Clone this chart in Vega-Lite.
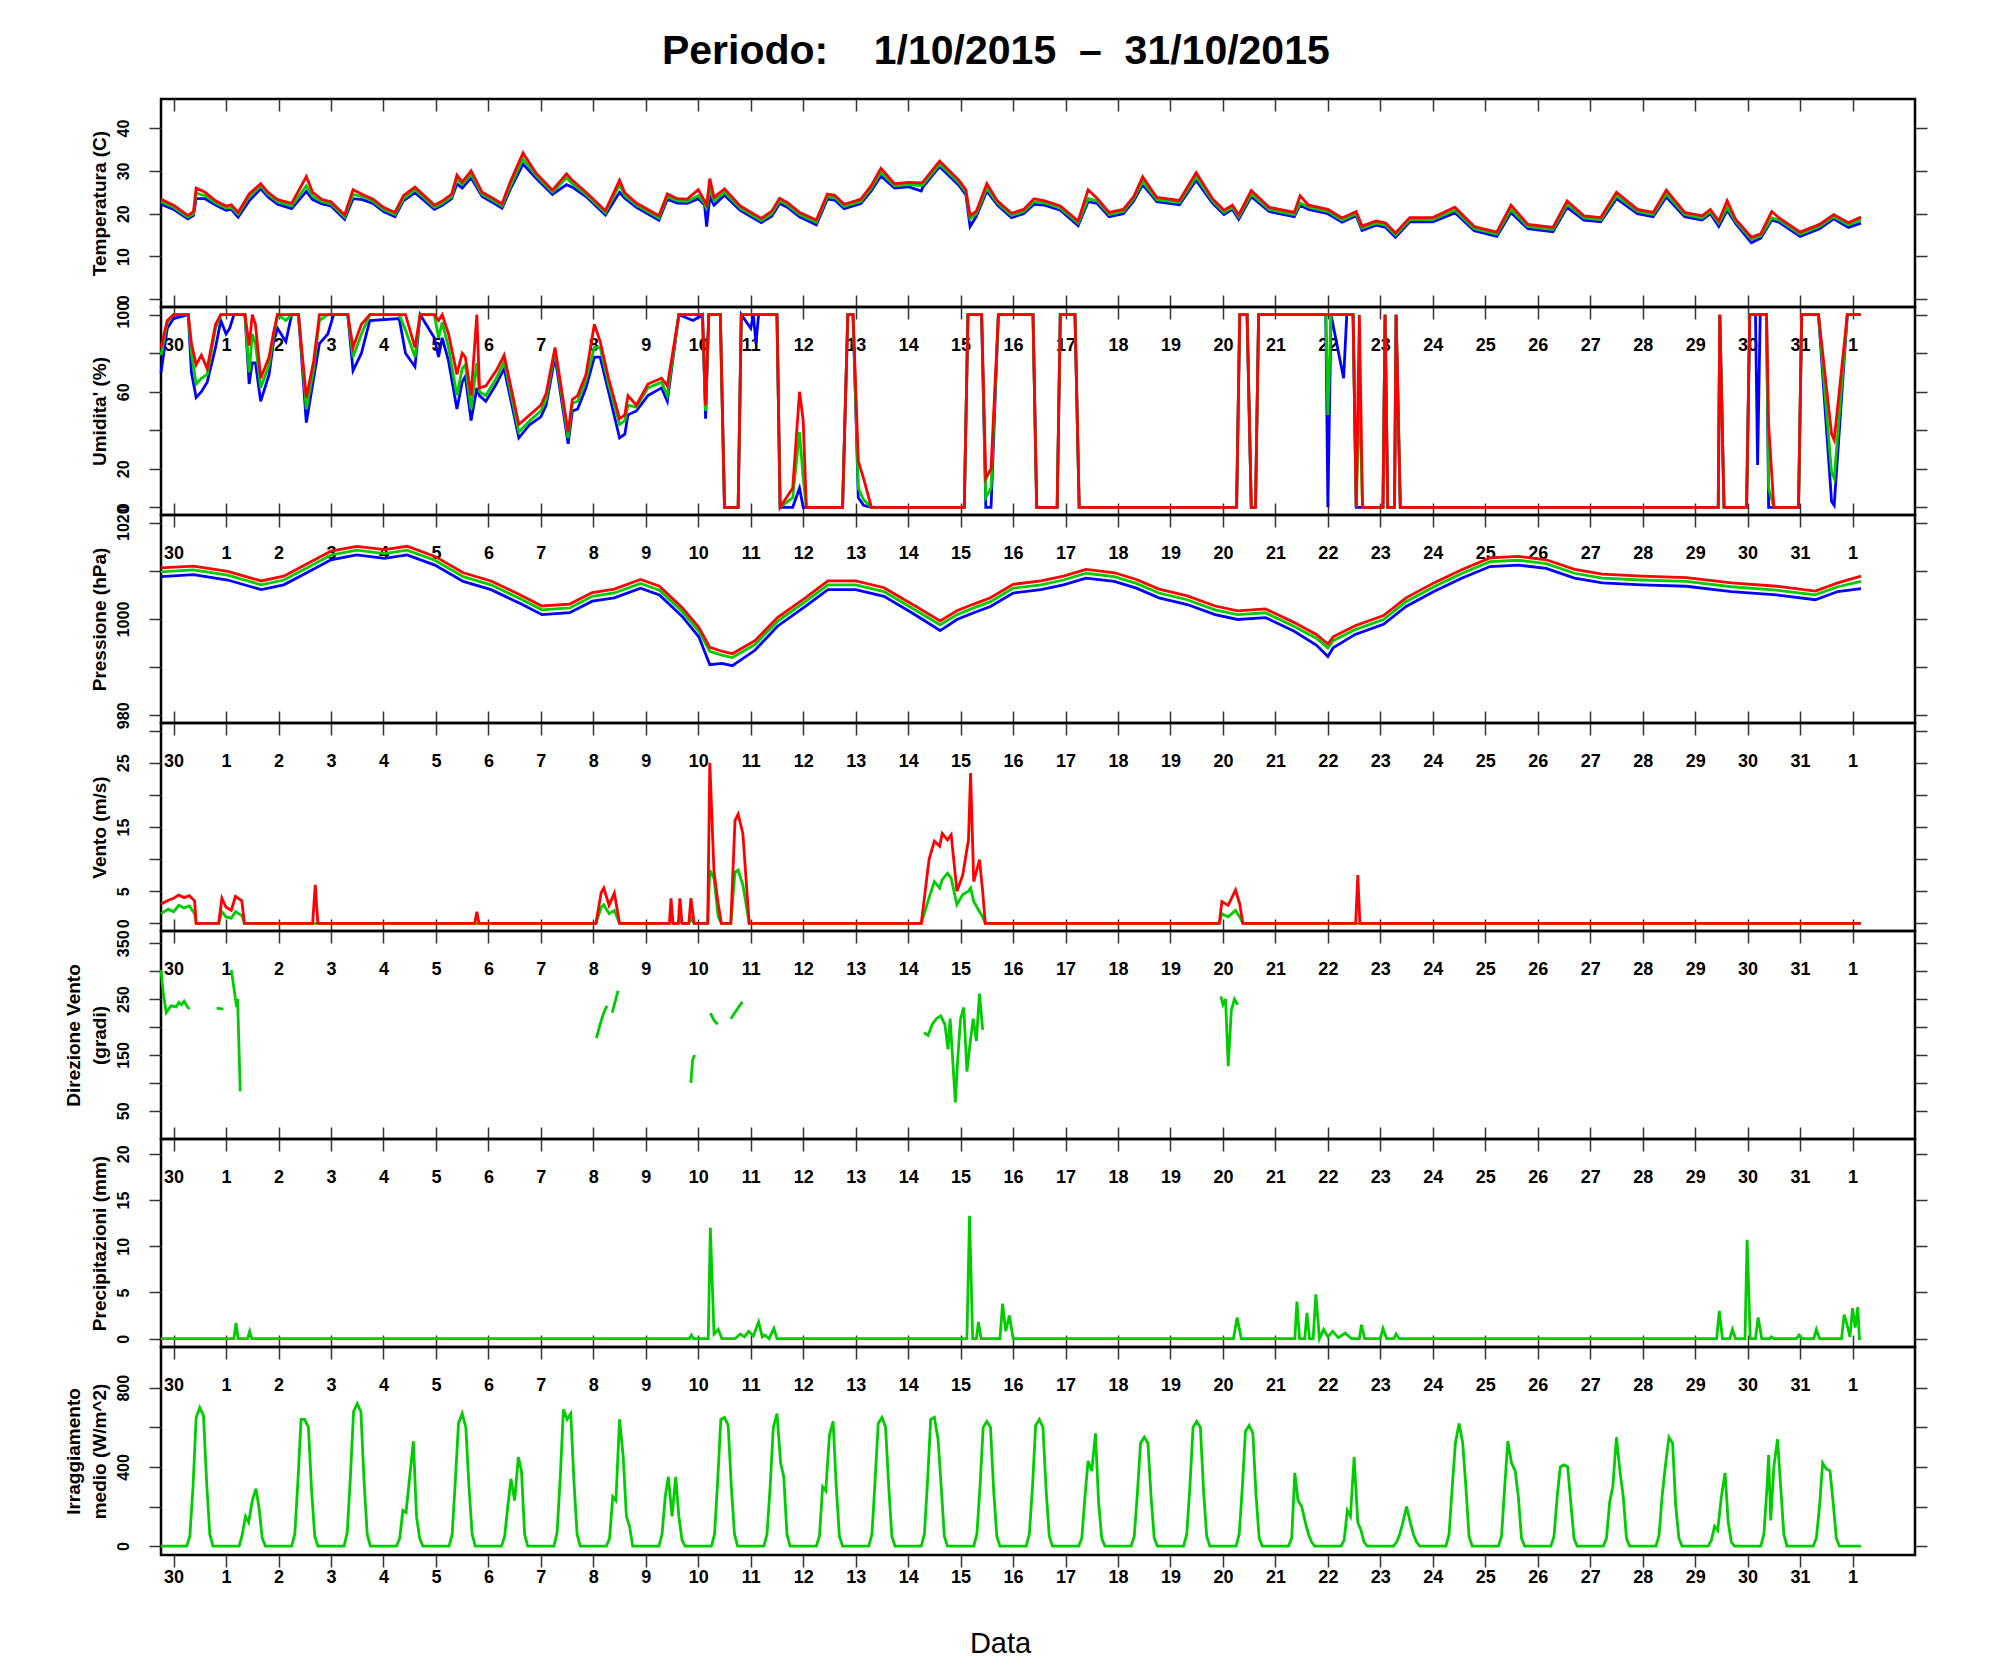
{
  "$schema": "https://vega.github.io/schema/vega-lite/v6.json",
  "description": "Meteo station, October 2015: temperature, humidity, pressure, wind, wind direction, rain, solar radiation",
  "background": "white",
  "padding": {"left": 62, "top": 31, "right": 10, "bottom": 10},
  "title": {
    "text": "Periodo:\u00a0\u00a0\u00a0 1/10/2015\u00a0\u00a0–\u00a0\u00a031/10/2015",
    "font": "Liberation Sans",
    "fontSize": 41,
    "fontWeight": "bold",
    "color": "black",
    "anchor": "middle",
    "baseline": "alphabetic",
    "offset": -8
  },
  "datasets": {
    "temp": [
      {"d":-0.24,"b":22.2,"g":22.8,"r":23.4},{"d":0.0,"b":21.0,"g":21.5,"r":22.0},{"d":0.27,"b":18.8,"g":19.2,"r":19.6},
      {"d":0.38,"b":19.6,"g":20.0,"r":20.5},{"d":0.43,"b":23.5,"g":24.8,"r":26.0},{"d":0.6,"b":23.5,"g":24.2,"r":25.0},
      {"d":0.8,"b":22.0,"g":22.5,"r":23.0},{"d":1.0,"b":20.8,"g":21.3,"r":21.8},{"d":1.1,"b":21.0,"g":21.5,"r":22.1},
      {"d":1.23,"b":19.2,"g":19.8,"r":20.3},{"d":1.44,"b":23.0,"g":24.0,"r":24.6},{"d":1.66,"b":25.8,"g":26.5,"r":27.0},
      {"d":1.8,"b":23.9,"g":24.5,"r":25.0},{"d":1.98,"b":22.2,"g":22.8,"r":23.3},{"d":2.25,"b":21.2,"g":21.8,"r":22.4},
      {"d":2.53,"b":25.2,"g":26.5,"r":28.7},{"d":2.65,"b":23.3,"g":24.0,"r":25.0},{"d":2.83,"b":22.3,"g":22.8,"r":23.3},
      {"d":3.0,"b":21.8,"g":22.3,"r":22.8},{"d":3.26,"b":18.7,"g":19.2,"r":19.7},{"d":3.42,"b":23.5,"g":24.5,"r":25.6},
      {"d":3.6,"b":23.3,"g":24.0,"r":24.5},{"d":3.8,"b":22.4,"g":22.9,"r":23.4},{"d":4.0,"b":20.5,"g":21.0,"r":21.5},
      {"d":4.22,"b":19.3,"g":19.8,"r":20.3},{"d":4.38,"b":23.0,"g":23.5,"r":24.2},{"d":4.6,"b":24.9,"g":25.6,"r":26.2},
      {"d":4.97,"b":21.0,"g":21.5,"r":22.0},{"d":5.13,"b":22.0,"g":22.5,"r":23.0},{"d":5.3,"b":23.5,"g":24.0,"r":24.6},
      {"d":5.4,"b":27.0,"g":28.2,"r":29.0},{"d":5.5,"b":26.0,"g":26.8,"r":27.4},{"d":5.67,"b":28.4,"g":29.2,"r":30.0},
      {"d":5.88,"b":24.0,"g":24.5,"r":25.0},{"d":6.1,"b":22.5,"g":23.0,"r":23.5},{"d":6.26,"b":21.3,"g":21.8,"r":22.3},
      {"d":6.42,"b":25.8,"g":26.5,"r":27.5},{"d":6.66,"b":31.6,"g":32.8,"r":34.2},{"d":6.9,"b":28.4,"g":29.0,"r":29.6},
      {"d":7.22,"b":24.5,"g":25.0,"r":25.5},{"d":7.49,"b":26.8,"g":28.4,"r":29.3},{"d":7.6,"b":26.2,"g":27.0,"r":27.8},
      {"d":7.86,"b":24.0,"g":24.5,"r":25.0},{"d":8.23,"b":19.7,"g":20.2,"r":20.7},{"d":8.5,"b":25.0,"g":26.8,"r":27.8},
      {"d":8.6,"b":23.6,"g":24.2,"r":24.9},{"d":8.82,"b":21.5,"g":22.0,"r":22.5},{"d":9.25,"b":18.5,"g":19.0,"r":19.5},
      {"d":9.41,"b":23.4,"g":24.0,"r":24.6},{"d":9.6,"b":22.5,"g":23.0,"r":23.5},{"d":9.79,"b":22.4,"g":22.9,"r":23.4},
      {"d":10.0,"b":23.5,"g":24.2,"r":25.6},{"d":10.12,"b":22.0,"g":22.5,"r":23.0},{"d":10.16,"b":17.0,"g":21.0,"r":22.0},
      {"d":10.22,"b":24.0,"g":26.0,"r":28.2},{"d":10.3,"b":22.0,"g":23.0,"r":23.8},{"d":10.5,"b":24.3,"g":25.0,"r":25.8},
      {"d":10.8,"b":20.8,"g":21.3,"r":21.8},{"d":11.2,"b":17.9,"g":18.4,"r":18.9},{"d":11.4,"b":19.4,"g":20.0,"r":20.6},
      {"d":11.55,"b":22.4,"g":23.0,"r":23.6},{"d":11.7,"b":21.5,"g":22.0,"r":22.6},{"d":11.93,"b":19.3,"g":19.8,"r":20.3},
      {"d":12.25,"b":17.4,"g":18.0,"r":18.5},{"d":12.46,"b":23.4,"g":24.0,"r":24.6},{"d":12.6,"b":23.2,"g":23.8,"r":24.3},
      {"d":12.78,"b":21.2,"g":21.7,"r":22.2},{"d":13.0,"b":22.0,"g":22.5,"r":23.0},{"d":13.1,"b":22.4,"g":22.9,"r":23.4},
      {"d":13.3,"b":25.4,"g":26.0,"r":26.6},{"d":13.48,"b":28.8,"g":29.6,"r":30.6},{"d":13.74,"b":26.0,"g":26.5,"r":27.0},
      {"d":14.0,"b":26.3,"g":26.8,"r":27.3},{"d":14.25,"b":25.3,"g":26.6,"r":27.2},{"d":14.28,"b":26.2,"g":26.8,"r":27.4},
      {"d":14.6,"b":31.0,"g":31.6,"r":32.3},{"d":14.97,"b":26.6,"g":27.2,"r":27.8},{"d":15.1,"b":24.4,"g":25.0,"r":25.6},
      {"d":15.18,"b":17.0,"g":18.8,"r":19.5},{"d":15.3,"b":19.4,"g":20.0,"r":20.6},{"d":15.5,"b":25.3,"g":26.0,"r":27.0},
      {"d":15.7,"b":22.0,"g":22.5,"r":23.0},{"d":15.97,"b":19.1,"g":19.6,"r":20.1},{"d":16.2,"b":20.0,"g":20.5,"r":21.0},
      {"d":16.4,"b":22.2,"g":22.8,"r":23.5},{"d":16.6,"b":22.0,"g":22.5,"r":23.0},{"d":16.9,"b":20.8,"g":21.3,"r":21.8},
      {"d":17.24,"b":17.2,"g":17.8,"r":18.3},{"d":17.43,"b":22.8,"g":23.5,"r":25.6},{"d":17.6,"b":22.4,"g":23.0,"r":23.6},
      {"d":17.83,"b":19.3,"g":19.8,"r":20.3},{"d":18.1,"b":20.0,"g":20.5,"r":21.0},{"d":18.3,"b":23.0,"g":23.5,"r":24.0},
      {"d":18.47,"b":26.8,"g":27.5,"r":28.6},{"d":18.74,"b":22.8,"g":23.3,"r":23.8},{"d":19.17,"b":22.1,"g":22.6,"r":23.1},
      {"d":19.49,"b":27.8,"g":28.6,"r":29.6},{"d":19.8,"b":22.5,"g":23.0,"r":23.5},{"d":20.02,"b":19.8,"g":20.3,"r":20.8},
      {"d":20.18,"b":21.0,"g":21.5,"r":22.0},{"d":20.3,"b":18.7,"g":19.2,"r":19.7},{"d":20.54,"b":24.0,"g":24.6,"r":25.4},
      {"d":20.88,"b":20.5,"g":21.0,"r":21.5},{"d":21.36,"b":19.3,"g":19.8,"r":20.3},{"d":21.47,"b":22.0,"g":22.5,"r":24.2},
      {"d":21.63,"b":21.0,"g":21.5,"r":22.0},{"d":22.0,"b":20.0,"g":20.5,"r":21.0},{"d":22.27,"b":18.0,"g":18.5,"r":19.0},
      {"d":22.54,"b":19.5,"g":20.0,"r":20.5},{"d":22.65,"b":16.1,"g":16.6,"r":17.1},{"d":22.92,"b":17.3,"g":17.8,"r":18.3},
      {"d":23.1,"b":16.8,"g":17.3,"r":17.8},{"d":23.29,"b":14.5,"g":15.0,"r":15.5},{"d":23.56,"b":18.1,"g":18.6,"r":19.1},
      {"d":24.0,"b":18.1,"g":18.6,"r":19.1},{"d":24.42,"b":20.2,"g":20.8,"r":21.5},{"d":24.79,"b":16.0,"g":16.5,"r":17.0},
      {"d":25.22,"b":14.7,"g":15.2,"r":15.7},{"d":25.49,"b":20.3,"g":21.0,"r":22.0},{"d":25.81,"b":16.5,"g":17.0,"r":17.5},
      {"d":26.29,"b":15.8,"g":16.3,"r":16.8},{"d":26.56,"b":21.5,"g":22.2,"r":23.0},{"d":26.88,"b":18.5,"g":19.0,"r":19.5},
      {"d":27.2,"b":18.1,"g":18.6,"r":19.1},{"d":27.5,"b":23.5,"g":24.2,"r":25.0},{"d":27.9,"b":20.0,"g":20.5,"r":21.0},
      {"d":28.2,"b":19.3,"g":19.8,"r":20.3},{"d":28.45,"b":23.9,"g":24.6,"r":25.5},{"d":28.8,"b":19.3,"g":19.8,"r":20.3},
      {"d":29.13,"b":18.5,"g":19.0,"r":19.5},{"d":29.29,"b":20.0,"g":20.5,"r":21.0},{"d":29.45,"b":17.0,"g":17.8,"r":18.3},
      {"d":29.61,"b":20.8,"g":21.5,"r":23.0},{"d":29.77,"b":17.7,"g":18.2,"r":18.7},{"d":30.07,"b":13.2,"g":14.0,"r":14.5},
      {"d":30.25,"b":14.3,"g":14.8,"r":15.3},{"d":30.46,"b":18.5,"g":19.0,"r":20.5},{"d":30.6,"b":18.0,"g":18.5,"r":19.0},
      {"d":31.0,"b":14.7,"g":15.2,"r":15.7},{"d":31.37,"b":16.5,"g":17.0,"r":17.5},{"d":31.64,"b":18.8,"g":19.3,"r":19.8},
      {"d":31.92,"b":16.8,"g":17.4,"r":17.9},{"d":32.16,"b":17.8,"g":18.6,"r":19.2}
    ],
    "hum": [
      {"d":-0.24,"b":70,"g":79,"r":83},{"d":-0.12,"b":93,"g":96,"r":97},{"d":0.0,"b":98,"g":100,"r":100},
      {"d":0.28,"b":100,"g":100,"r":100},{"d":0.34,"b":70,"g":80,"r":85},{"d":0.43,"b":57,"g":64,"r":74},
      {"d":0.53,"b":60,"g":67,"r":79},{"d":0.64,"b":65,"g":69,"r":72},{"d":0.8,"b":83,"g":93,"r":95},
      {"d":0.9,"b":97,"g":100,"r":100},{"d":1.0,"b":90,"g":100,"r":100},{"d":1.07,"b":93,"g":100,"r":100},
      {"d":1.15,"b":100,"g":100,"r":100},{"d":1.36,"b":100,"g":100,"r":100},{"d":1.44,"b":64,"g":70,"r":84},
      {"d":1.5,"b":75,"g":90,"r":100},{"d":1.56,"b":75,"g":85,"r":95},{"d":1.66,"b":55,"g":62,"r":67},
      {"d":1.82,"b":69,"g":74,"r":78},{"d":1.9,"b":85,"g":88,"r":90},{"d":1.98,"b":93,"g":100,"r":100},
      {"d":2.14,"b":86,"g":97,"r":100},{"d":2.25,"b":100,"g":100,"r":100},{"d":2.38,"b":100,"g":100,"r":100},
      {"d":2.53,"b":44,"g":51,"r":57},{"d":2.67,"b":67,"g":72,"r":76},{"d":2.78,"b":85,"g":97,"r":100},
      {"d":2.94,"b":90,"g":100,"r":100},{"d":3.05,"b":100,"g":100,"r":100},{"d":3.32,"b":100,"g":100,"r":100},
      {"d":3.42,"b":71,"g":78,"r":83},{"d":3.58,"b":80,"g":90,"r":95},{"d":3.74,"b":97,"g":100,"r":100},
      {"d":4.3,"b":98,"g":100,"r":100},{"d":4.42,"b":80,"g":92,"r":100},{"d":4.6,"b":73,"g":78,"r":83},
      {"d":4.7,"b":100,"g":100,"r":100},{"d":4.97,"b":88,"g":100,"r":100},{"d":5.05,"b":78,"g":88,"r":97},
      {"d":5.12,"b":88,"g":96,"r":100},{"d":5.24,"b":76,"g":83,"r":90},{"d":5.4,"b":51,"g":58,"r":69},
      {"d":5.5,"b":65,"g":72,"r":80},{"d":5.56,"b":68,"g":74,"r":78},{"d":5.67,"b":45,"g":51,"r":58},
      {"d":5.78,"b":62,"g":75,"r":100},{"d":5.83,"b":58,"g":60,"r":62},{"d":5.95,"b":55,"g":58,"r":63},
      {"d":6.15,"b":64,"g":67,"r":71},{"d":6.3,"b":72,"g":76,"r":79},{"d":6.58,"b":36,"g":39,"r":43},
      {"d":6.79,"b":43,"g":45,"r":48},{"d":7.0,"b":47,"g":50,"r":53},{"d":7.1,"b":53,"g":56,"r":59},
      {"d":7.27,"b":78,"g":81,"r":83},{"d":7.52,"b":33,"g":36,"r":39},{"d":7.6,"b":50,"g":54,"r":56},
      {"d":7.7,"b":51,"g":55,"r":58},{"d":7.86,"b":62,"g":66,"r":69},{"d":8.02,"b":78,"g":83,"r":95},
      {"d":8.13,"b":78,"g":83,"r":86},{"d":8.29,"b":60,"g":64,"r":67},{"d":8.5,"b":36,"g":43,"r":46},
      {"d":8.6,"b":38,"g":45,"r":48},{"d":8.66,"b":48,"g":53,"r":58},{"d":8.82,"b":50,"g":52,"r":53},
      {"d":9.04,"b":58,"g":62,"r":64},{"d":9.3,"b":62,"g":65,"r":67},{"d":9.41,"b":55,"g":58,"r":63},
      {"d":9.63,"b":100,"g":100,"r":100},{"d":9.9,"b":97,"g":100,"r":100},{"d":10.08,"b":100,"g":100,"r":100},
      {"d":10.14,"b":46,"g":50,"r":53},{"d":10.2,"b":100,"g":100,"r":100},{"d":10.42,"b":100,"g":100,"r":100},
      {"d":10.5,"b":0,"g":0,"r":0},{"d":10.76,"b":0,"g":0,"r":0},{"d":10.82,"b":100,"g":100,"r":100},
      {"d":11.0,"b":93,"g":100,"r":100},{"d":11.05,"b":100,"g":100,"r":100},{"d":11.1,"b":85,"g":100,"r":100},
      {"d":11.15,"b":100,"g":100,"r":100},{"d":11.5,"b":100,"g":100,"r":100},{"d":11.56,"b":0,"g":0,"r":0},
      {"d":11.8,"b":0,"g":5,"r":10},{"d":11.93,"b":10,"g":39,"r":60},{"d":12.0,"b":0,"g":15,"r":45},
      {"d":12.06,"b":0,"g":0,"r":0},{"d":12.75,"b":0,"g":0,"r":0},{"d":12.85,"b":100,"g":100,"r":100},
      {"d":12.95,"b":100,"g":100,"r":100},{"d":13.05,"b":5,"g":10,"r":24},{"d":13.15,"b":1,"g":4,"r":15},
      {"d":13.3,"b":0,"g":0,"r":0},{"d":15.07,"b":0,"g":0,"r":0},{"d":15.14,"b":100,"g":100,"r":100},
      {"d":15.4,"b":100,"g":100,"r":100},{"d":15.48,"b":0,"g":5,"r":15},{"d":15.58,"b":0,"g":10,"r":20},
      {"d":15.72,"b":100,"g":100,"r":100},{"d":16.38,"b":100,"g":100,"r":100},{"d":16.45,"b":0,"g":0,"r":0},
      {"d":16.84,"b":0,"g":0,"r":0},{"d":16.9,"b":100,"g":100,"r":100},{"d":17.18,"b":100,"g":100,"r":100},
      {"d":17.26,"b":0,"g":0,"r":0},{"d":20.26,"b":0,"g":0,"r":0},{"d":20.32,"b":100,"g":100,"r":100},
      {"d":20.46,"b":100,"g":100,"r":100},{"d":20.54,"b":0,"g":0,"r":0},{"d":20.62,"b":0,"g":0,"r":0},
      {"d":20.68,"b":100,"g":100,"r":100},{"d":21.96,"b":100,"g":100,"r":100},{"d":22.0,"b":0,"g":48,"r":100},
      {"d":22.06,"b":100,"g":100,"r":100},{"d":22.3,"b":67,"g":100,"r":100},{"d":22.36,"b":100,"g":100,"r":100},
      {"d":22.48,"b":100,"g":100,"r":100},{"d":22.54,"b":0,"g":0,"r":0},{"d":22.6,"b":0,"g":60,"r":100},
      {"d":22.66,"b":0,"g":0,"r":0},{"d":23.05,"b":0,"g":0,"r":0},{"d":23.09,"b":100,"g":100,"r":100},
      {"d":23.14,"b":0,"g":0,"r":0},{"d":23.27,"b":0,"g":0,"r":0},{"d":23.3,"b":100,"g":100,"r":100},
      {"d":23.38,"b":0,"g":0,"r":0},{"d":29.44,"b":0,"g":0,"r":0},{"d":29.47,"b":100,"g":100,"r":100},
      {"d":29.55,"b":0,"g":0,"r":0},{"d":29.98,"b":0,"g":0,"r":0},{"d":30.04,"b":100,"g":100,"r":100},
      {"d":30.15,"b":100,"g":100,"r":100},{"d":30.19,"b":22,"g":100,"r":100},{"d":30.24,"b":100,"g":100,"r":100},
      {"d":30.36,"b":100,"g":100,"r":100},{"d":30.4,"b":0,"g":10,"r":43},{"d":30.5,"b":0,"g":0,"r":0},
      {"d":30.97,"b":0,"g":0,"r":0},{"d":31.03,"b":100,"g":100,"r":100},{"d":31.35,"b":100,"g":100,"r":100},
      {"d":31.6,"b":3,"g":18,"r":38},{"d":31.65,"b":1,"g":15,"r":35},{"d":31.9,"b":100,"g":100,"r":100},
      {"d":32.16,"b":100,"g":100,"r":100}
    ],
    "pres": [
      {"d":-0.24,"b":1008.8,"g":1009.8,"r":1010.6},{"d":0.38,"b":1009.2,"g":1010.2,"r":1011.0},{"d":1.03,"b":1008.1,"g":1009.1,"r":1009.9},
      {"d":1.67,"b":1006.1,"g":1007.1,"r":1007.9},{"d":2.1,"b":1007.1,"g":1008.1,"r":1008.9},{"d":2.52,"b":1009.5,"g":1010.5,"r":1011.3},
      {"d":3.0,"b":1012.3,"g":1013.3,"r":1014.1},{"d":3.49,"b":1013.3,"g":1014.3,"r":1015.1},{"d":4.02,"b":1012.6,"g":1013.6,"r":1014.4},
      {"d":4.45,"b":1013.3,"g":1014.3,"r":1015.1},{"d":4.98,"b":1011.2,"g":1012.2,"r":1013.0},{"d":5.52,"b":1007.8,"g":1008.8,"r":1009.6},
      {"d":6.05,"b":1006.1,"g":1007.1,"r":1007.9},{"d":6.59,"b":1003.3,"g":1004.3,"r":1005.1},{"d":7.02,"b":1000.9,"g":1001.9,"r":1002.7},
      {"d":7.55,"b":1001.3,"g":1002.3,"r":1003.1},{"d":7.98,"b":1003.7,"g":1004.7,"r":1005.5},{"d":8.4,"b":1004.4,"g":1005.4,"r":1006.2},
      {"d":8.9,"b":1006.4,"g":1007.4,"r":1008.2},{"d":9.26,"b":1005.0,"g":1006.0,"r":1006.8},{"d":9.69,"b":1000.6,"g":1001.6,"r":1002.4},
      {"d":10.01,"b":996.3,"g":997.5,"r":998.3},{"d":10.22,"b":990.5,"g":993.3,"r":994.1},{"d":10.45,"b":990.8,"g":992.5,"r":993.3},
      {"d":10.65,"b":990.3,"g":992.0,"r":992.8},{"d":11.08,"b":993.5,"g":994.7,"r":995.5},{"d":11.51,"b":998.5,"g":999.5,"r":1000.3},
      {"d":12.04,"b":1002.6,"g":1003.6,"r":1004.4},{"d":12.47,"b":1006.1,"g":1007.1,"r":1007.9},{"d":13.0,"b":1006.1,"g":1007.1,"r":1007.9},
      {"d":13.54,"b":1004.7,"g":1005.7,"r":1006.5},{"d":14.07,"b":1001.3,"g":1002.3,"r":1003.1},{"d":14.61,"b":997.6,"g":998.8,"r":999.6},
      {"d":14.93,"b":999.9,"g":1000.9,"r":1001.7},{"d":15.25,"b":1001.3,"g":1002.3,"r":1003.1},{"d":15.57,"b":1002.6,"g":1003.6,"r":1004.4},
      {"d":16.0,"b":1005.4,"g":1006.4,"r":1007.2},{"d":16.53,"b":1006.1,"g":1007.1,"r":1007.9},{"d":16.96,"b":1007.1,"g":1008.1,"r":1008.9},
      {"d":17.39,"b":1008.5,"g":1009.5,"r":1010.3},{"d":17.93,"b":1007.8,"g":1008.8,"r":1009.6},{"d":18.35,"b":1006.4,"g":1007.4,"r":1008.2},
      {"d":18.78,"b":1004.4,"g":1005.4,"r":1006.2},{"d":19.32,"b":1003.0,"g":1004.0,"r":1004.8},{"d":19.85,"b":1000.9,"g":1001.9,"r":1002.7},
      {"d":20.28,"b":999.9,"g":1000.9,"r":1001.7},{"d":20.81,"b":1000.3,"g":1001.3,"r":1002.1},{"d":21.35,"b":997.5,"g":998.5,"r":999.3},
      {"d":21.78,"b":994.6,"g":996.0,"r":996.8},{"d":22.0,"b":992.2,"g":994.0,"r":994.8},{"d":22.1,"b":994.0,"g":995.5,"r":996.3},
      {"d":22.52,"b":996.8,"g":997.8,"r":998.6},{"d":23.06,"b":998.9,"g":999.9,"r":1000.7},{"d":23.49,"b":1002.6,"g":1003.6,"r":1004.4},
      {"d":24.02,"b":1005.7,"g":1006.7,"r":1007.5},{"d":24.56,"b":1008.5,"g":1009.5,"r":1010.3},{"d":25.09,"b":1010.9,"g":1011.9,"r":1012.7},
      {"d":25.63,"b":1011.2,"g":1012.2,"r":1013.0},{"d":26.16,"b":1010.5,"g":1011.5,"r":1012.3},{"d":26.7,"b":1008.5,"g":1009.5,"r":1010.3},
      {"d":27.23,"b":1007.5,"g":1008.5,"r":1009.3},{"d":27.98,"b":1007.1,"g":1008.1,"r":1008.9},{"d":28.83,"b":1006.8,"g":1007.8,"r":1008.6},
      {"d":29.69,"b":1005.7,"g":1006.7,"r":1007.5},{"d":30.55,"b":1005.0,"g":1006.0,"r":1006.8},{"d":31.29,"b":1004.0,"g":1005.0,"r":1005.8},
      {"d":31.72,"b":1005.7,"g":1006.7,"r":1007.5},{"d":32.16,"b":1006.3,"g":1007.8,"r":1008.9}
    ],
    "wind": [
      {"d":-0.24,"g":1.5,"r":3.0},{"d":-0.1,"g":2.2,"r":3.6},{"d":0.0,"g":1.8,"r":3.9},{"d":0.1,"g":2.8,"r":4.4},
      {"d":0.2,"g":2.4,"r":4.0},{"d":0.3,"g":2.7,"r":4.3},{"d":0.4,"g":1.5,"r":3.5},{"d":0.43,"g":0,"r":0},
      {"d":0.86,"g":0,"r":0},{"d":0.92,"g":1.8,"r":3.9},{"d":1.0,"g":1.0,"r":2.5},{"d":1.1,"g":0.8,"r":2.0},
      {"d":1.18,"g":1.8,"r":4.2},{"d":1.3,"g":1.2,"r":3.5},{"d":1.35,"g":0,"r":0},{"d":2.65,"g":0,"r":0},
      {"d":2.7,"g":0,"r":6.0},{"d":2.75,"g":0,"r":0},{"d":5.74,"g":0,"r":0},{"d":5.78,"g":0,"r":1.8},
      {"d":5.82,"g":0,"r":0},{"d":8.05,"g":0,"r":0},{"d":8.15,"g":2.5,"r":4.8},{"d":8.2,"g":2.9,"r":5.5},
      {"d":8.3,"g":1.5,"r":2.8},{"d":8.4,"g":2.0,"r":4.7},{"d":8.5,"g":0,"r":0},{"d":9.45,"g":0,"r":0},
      {"d":9.48,"g":0.5,"r":3.9},{"d":9.52,"g":0,"r":0},{"d":9.62,"g":0,"r":0},{"d":9.65,"g":0.5,"r":3.9},
      {"d":9.69,"g":0,"r":0},{"d":9.82,"g":0,"r":0},{"d":9.86,"g":0.8,"r":3.9},{"d":9.92,"g":0,"r":0},
      {"d":10.18,"g":0,"r":0},{"d":10.22,"g":8.3,"r":25.0},{"d":10.3,"g":7.0,"r":8.0},{"d":10.38,"g":1.0,"r":3.0},
      {"d":10.44,"g":0,"r":0},{"d":10.62,"g":0,"r":0},{"d":10.7,"g":8.0,"r":16.0},{"d":10.76,"g":8.3,"r":17.0},
      {"d":10.85,"g":6.0,"r":14.0},{"d":10.97,"g":0,"r":0},{"d":14.25,"g":0,"r":0},{"d":14.4,"g":4.0,"r":10.0},
      {"d":14.5,"g":6.5,"r":12.8},{"d":14.6,"g":5.5,"r":12.0},{"d":14.65,"g":6.8,"r":14.0},{"d":14.75,"g":7.8,"r":13.0},
      {"d":14.82,"g":7.0,"r":13.8},{"d":14.93,"g":2.9,"r":5.0},{"d":15.04,"g":4.5,"r":7.5},{"d":15.15,"g":5.0,"r":13.0},
      {"d":15.19,"g":5.5,"r":23.4},{"d":15.25,"g":3.4,"r":6.5},{"d":15.36,"g":1.8,"r":9.9},{"d":15.42,"g":1.0,"r":5.0},
      {"d":15.47,"g":0,"r":0},{"d":19.93,"g":0,"r":0},{"d":19.98,"g":1.5,"r":3.4},{"d":20.1,"g":1.0,"r":2.8},
      {"d":20.24,"g":2.0,"r":5.2},{"d":20.32,"g":1.0,"r":3.0},{"d":20.38,"g":0,"r":0},{"d":22.53,"g":0,"r":0},
      {"d":22.57,"g":0,"r":7.5},{"d":22.61,"g":0,"r":0},{"d":32.16,"g":0,"r":0}
    ],
    "dir": [
      {"d":-0.24,"v":302,"s":1},{"d":-0.2,"v":262,"s":1},{"d":-0.14,"v":226,"s":1},{"d":-0.05,"v":238,"s":1},
      {"d":0.05,"v":236,"s":1},{"d":0.1,"v":244,"s":1},{"d":0.15,"v":240,"s":1},{"d":0.2,"v":246,"s":1},
      {"d":0.25,"v":238,"s":1},{"d":0.3,"v":232,"s":1},
      {"d":0.82,"v":234,"s":2},{"d":0.95,"v":232,"s":2},
      {"d":1.1,"v":302,"s":3},{"d":1.15,"v":270,"s":3},{"d":1.2,"v":236,"s":3},{"d":1.22,"v":250,"s":3},{"d":1.27,"v":85,"s":3},
      {"d":8.06,"v":180,"s":4},{"d":8.13,"v":205,"s":4},{"d":8.2,"v":226,"s":4},{"d":8.26,"v":238,"s":4},
      {"d":8.36,"v":226,"s":5},{"d":8.47,"v":265,"s":5},
      {"d":9.86,"v":100,"s":6},{"d":9.89,"v":140,"s":6},{"d":9.93,"v":150,"s":6},
      {"d":10.23,"v":225,"s":7},{"d":10.3,"v":212,"s":7},{"d":10.37,"v":205,"s":7},
      {"d":10.62,"v":215,"s":8},{"d":10.74,"v":232,"s":8},{"d":10.84,"v":245,"s":8},
      {"d":14.3,"v":190,"s":9},{"d":14.38,"v":185,"s":9},{"d":14.46,"v":205,"s":9},{"d":14.54,"v":215,"s":9},
      {"d":14.62,"v":220,"s":9},{"d":14.7,"v":205,"s":9},{"d":14.76,"v":160,"s":9},{"d":14.8,"v":215,"s":9},
      {"d":14.85,"v":140,"s":9},{"d":14.9,"v":65,"s":9},{"d":14.95,"v":150,"s":9},{"d":15.0,"v":215,"s":9},
      {"d":15.06,"v":235,"s":9},{"d":15.12,"v":120,"s":9},{"d":15.18,"v":170,"s":9},{"d":15.24,"v":215,"s":9},
      {"d":15.3,"v":175,"s":9},{"d":15.36,"v":260,"s":9},{"d":15.42,"v":195,"s":9},
      {"d":19.96,"v":255,"s":10},{"d":20.0,"v":240,"s":10},{"d":20.05,"v":250,"s":10},{"d":20.1,"v":130,"s":10},
      {"d":20.16,"v":230,"s":10},{"d":20.22,"v":250,"s":10},{"d":20.28,"v":240,"s":10}
    ],
    "rain": [
      {"d":-0.24,"v":0},{"d":1.15,"v":0},{"d":1.19,"v":1.7},{"d":1.23,"v":0},{"d":1.41,"v":0},{"d":1.45,"v":0.8},{"d":1.49,"v":0},
      {"d":9.83,"v":0},{"d":9.87,"v":0.4},{"d":9.91,"v":0},{"d":10.19,"v":0},{"d":10.23,"v":12.0},{"d":10.3,"v":0.5},
      {"d":10.38,"v":1.0},{"d":10.45,"v":0},{"d":10.7,"v":0},{"d":10.8,"v":0.5},{"d":10.88,"v":0.2},{"d":10.96,"v":0.8},
      {"d":11.05,"v":0.3},{"d":11.15,"v":1.8},{"d":11.22,"v":0.2},{"d":11.27,"v":0.4},{"d":11.35,"v":0},{"d":11.44,"v":1.1},
      {"d":11.5,"v":0},{"d":15.12,"v":0},{"d":15.17,"v":13.3},{"d":15.23,"v":0},{"d":15.3,"v":0},{"d":15.34,"v":1.8},
      {"d":15.39,"v":0},{"d":15.75,"v":0},{"d":15.8,"v":3.8},{"d":15.86,"v":0.8},{"d":15.93,"v":2.5},{"d":16.0,"v":0},
      {"d":20.2,"v":0},{"d":20.27,"v":2.3},{"d":20.35,"v":0},{"d":21.37,"v":0},{"d":21.41,"v":4.0},{"d":21.46,"v":0},
      {"d":21.56,"v":0},{"d":21.6,"v":2.8},{"d":21.65,"v":0},{"d":21.72,"v":0},{"d":21.77,"v":4.8},{"d":21.84,"v":0},
      {"d":21.92,"v":1.0},{"d":22.0,"v":0.2},{"d":22.09,"v":0.8},{"d":22.2,"v":0.1},{"d":22.33,"v":0.6},{"d":22.45,"v":0},
      {"d":22.6,"v":0},{"d":22.64,"v":1.5},{"d":22.7,"v":0},{"d":23.0,"v":0},{"d":23.05,"v":1.1},{"d":23.12,"v":0},
      {"d":23.26,"v":0},{"d":23.3,"v":0.5},{"d":23.36,"v":0},{"d":29.41,"v":0},{"d":29.46,"v":3.0},{"d":29.52,"v":0},
      {"d":29.66,"v":0},{"d":29.71,"v":1.0},{"d":29.77,"v":0},{"d":29.95,"v":0},{"d":29.99,"v":10.7},{"d":30.05,"v":0},
      {"d":30.15,"v":0},{"d":30.2,"v":2.3},{"d":30.27,"v":0},{"d":30.42,"v":0},{"d":30.45,"v":0.2},{"d":30.5,"v":0},
      {"d":30.93,"v":0},{"d":30.98,"v":0.4},{"d":31.04,"v":0},{"d":31.26,"v":0},{"d":31.31,"v":1.0},{"d":31.37,"v":0},
      {"d":31.79,"v":0},{"d":31.84,"v":2.6},{"d":31.9,"v":1.4},{"d":31.95,"v":0.2},{"d":32.0,"v":3.3},{"d":32.05,"v":1.2},
      {"d":32.1,"v":3.4},{"d":32.13,"v":0},{"d":32.16,"v":0}
    ],
    "rad": [
      {"d":-0.24,"v":0},
      {"d":0.25,"v":0},{"d":0.31,"v":50},{"d":0.37,"v":300},{"d":0.43,"v":650},{"d":0.5,"v":700},{"d":0.57,"v":660},{"d":0.63,"v":320},{"d":0.69,"v":60},{"d":0.75,"v":0},
      {"d":1.25,"v":0},{"d":1.31,"v":60},{"d":1.37,"v":150},{"d":1.43,"v":120},{"d":1.5,"v":230},{"d":1.57,"v":290},{"d":1.63,"v":190},{"d":1.69,"v":40},{"d":1.75,"v":0},
      {"d":2.25,"v":0},{"d":2.31,"v":60},{"d":2.37,"v":330},{"d":2.43,"v":640},{"d":2.5,"v":640},{"d":2.57,"v":600},{"d":2.63,"v":280},{"d":2.69,"v":50},{"d":2.75,"v":0},
      {"d":3.25,"v":0},{"d":3.31,"v":70},{"d":3.37,"v":350},{"d":3.43,"v":680},{"d":3.5,"v":720},{"d":3.57,"v":680},{"d":3.63,"v":330},{"d":3.69,"v":60},{"d":3.75,"v":0},
      {"d":4.25,"v":0},{"d":4.31,"v":40},{"d":4.37,"v":180},{"d":4.43,"v":170},{"d":4.5,"v":350},{"d":4.57,"v":530},{"d":4.63,"v":150},{"d":4.69,"v":40},{"d":4.75,"v":0},
      {"d":5.25,"v":0},{"d":5.31,"v":60},{"d":5.37,"v":330},{"d":5.43,"v":620},{"d":5.5,"v":670},{"d":5.57,"v":600},{"d":5.63,"v":300},{"d":5.69,"v":60},{"d":5.75,"v":0},
      {"d":6.25,"v":0},{"d":6.31,"v":50},{"d":6.37,"v":200},{"d":6.43,"v":340},{"d":6.5,"v":230},{"d":6.57,"v":450},{"d":6.63,"v":380},{"d":6.69,"v":60},{"d":6.75,"v":0},
      {"d":7.25,"v":0},{"d":7.31,"v":70},{"d":7.37,"v":350},{"d":7.43,"v":690},{"d":7.5,"v":640},{"d":7.57,"v":670},{"d":7.63,"v":330},{"d":7.69,"v":60},{"d":7.75,"v":0},
      {"d":8.25,"v":0},{"d":8.31,"v":40},{"d":8.37,"v":250},{"d":8.43,"v":230},{"d":8.5,"v":640},{"d":8.57,"v":450},{"d":8.63,"v":150},{"d":8.69,"v":100},{"d":8.75,"v":0},
      {"d":9.25,"v":0},{"d":9.31,"v":60},{"d":9.37,"v":250},{"d":9.43,"v":350},{"d":9.5,"v":150},{"d":9.57,"v":350},{"d":9.63,"v":150},{"d":9.69,"v":30},{"d":9.75,"v":0},
      {"d":10.25,"v":0},{"d":10.31,"v":60},{"d":10.37,"v":330},{"d":10.43,"v":640},{"d":10.5,"v":650},{"d":10.57,"v":610},{"d":10.63,"v":300},{"d":10.69,"v":60},{"d":10.75,"v":0},
      {"d":11.25,"v":0},{"d":11.31,"v":60},{"d":11.37,"v":300},{"d":11.43,"v":600},{"d":11.5,"v":670},{"d":11.57,"v":420},{"d":11.63,"v":350},{"d":11.69,"v":60},{"d":11.75,"v":0},
      {"d":12.25,"v":0},{"d":12.31,"v":50},{"d":12.37,"v":300},{"d":12.43,"v":280},{"d":12.5,"v":560},{"d":12.57,"v":630},{"d":12.63,"v":300},{"d":12.69,"v":50},{"d":12.75,"v":0},
      {"d":13.25,"v":0},{"d":13.31,"v":60},{"d":13.37,"v":330},{"d":13.43,"v":620},{"d":13.5,"v":650},{"d":13.57,"v":600},{"d":13.63,"v":300},{"d":13.69,"v":50},{"d":13.75,"v":0},
      {"d":14.25,"v":0},{"d":14.31,"v":60},{"d":14.37,"v":330},{"d":14.43,"v":640},{"d":14.5,"v":650},{"d":14.57,"v":540},{"d":14.63,"v":300},{"d":14.69,"v":50},{"d":14.75,"v":0},
      {"d":15.25,"v":0},{"d":15.31,"v":60},{"d":15.37,"v":300},{"d":15.43,"v":600},{"d":15.5,"v":630},{"d":15.57,"v":600},{"d":15.63,"v":280},{"d":15.69,"v":50},{"d":15.75,"v":0},
      {"d":16.25,"v":0},{"d":16.31,"v":60},{"d":16.37,"v":300},{"d":16.43,"v":610},{"d":16.5,"v":640},{"d":16.57,"v":600},{"d":16.63,"v":280},{"d":16.69,"v":50},{"d":16.75,"v":0},
      {"d":17.25,"v":0},{"d":17.31,"v":40},{"d":17.37,"v":250},{"d":17.43,"v":430},{"d":17.5,"v":380},{"d":17.57,"v":570},{"d":17.63,"v":220},{"d":17.69,"v":40},{"d":17.75,"v":0},
      {"d":18.25,"v":0},{"d":18.31,"v":50},{"d":18.37,"v":270},{"d":18.43,"v":520},{"d":18.5,"v":550},{"d":18.57,"v":520},{"d":18.63,"v":250},{"d":18.69,"v":40},{"d":18.75,"v":0},
      {"d":19.25,"v":0},{"d":19.31,"v":60},{"d":19.37,"v":300},{"d":19.43,"v":600},{"d":19.5,"v":630},{"d":19.57,"v":600},{"d":19.63,"v":280},{"d":19.69,"v":50},{"d":19.75,"v":0},
      {"d":20.25,"v":0},{"d":20.31,"v":60},{"d":20.37,"v":300},{"d":20.43,"v":580},{"d":20.5,"v":610},{"d":20.57,"v":570},{"d":20.63,"v":260},{"d":20.69,"v":40},{"d":20.75,"v":0},
      {"d":21.25,"v":0},{"d":21.31,"v":40},{"d":21.37,"v":370},{"d":21.43,"v":230},{"d":21.5,"v":200},{"d":21.57,"v":120},{"d":21.63,"v":60},{"d":21.69,"v":20},{"d":21.75,"v":0},
      {"d":22.25,"v":0},{"d":22.31,"v":30},{"d":22.37,"v":180},{"d":22.43,"v":150},{"d":22.5,"v":450},{"d":22.57,"v":120},{"d":22.63,"v":80},{"d":22.69,"v":20},{"d":22.75,"v":0},
      {"d":23.25,"v":0},{"d":23.31,"v":20},{"d":23.37,"v":60},{"d":23.43,"v":120},{"d":23.5,"v":200},{"d":23.57,"v":120},{"d":23.63,"v":60},{"d":23.69,"v":20},{"d":23.75,"v":0},
      {"d":24.25,"v":0},{"d":24.31,"v":60},{"d":24.37,"v":300},{"d":24.43,"v":520},{"d":24.5,"v":620},{"d":24.57,"v":520},{"d":24.63,"v":300},{"d":24.69,"v":50},{"d":24.75,"v":0},
      {"d":25.25,"v":0},{"d":25.31,"v":50},{"d":25.37,"v":300},{"d":25.43,"v":530},{"d":25.5,"v":420},{"d":25.57,"v":380},{"d":25.63,"v":250},{"d":25.69,"v":40},{"d":25.75,"v":0},
      {"d":26.25,"v":0},{"d":26.31,"v":50},{"d":26.37,"v":250},{"d":26.43,"v":400},{"d":26.5,"v":410},{"d":26.57,"v":400},{"d":26.63,"v":220},{"d":26.69,"v":40},{"d":26.75,"v":0},
      {"d":27.25,"v":0},{"d":27.31,"v":40},{"d":27.37,"v":220},{"d":27.43,"v":300},{"d":27.5,"v":550},{"d":27.57,"v":370},{"d":27.63,"v":250},{"d":27.69,"v":40},{"d":27.75,"v":0},
      {"d":28.25,"v":0},{"d":28.31,"v":50},{"d":28.37,"v":250},{"d":28.43,"v":400},{"d":28.5,"v":550},{"d":28.57,"v":520},{"d":28.63,"v":200},{"d":28.69,"v":40},{"d":28.75,"v":0},
      {"d":29.25,"v":0},{"d":29.31,"v":30},{"d":29.37,"v":100},{"d":29.43,"v":80},{"d":29.5,"v":250},{"d":29.57,"v":370},{"d":29.63,"v":120},{"d":29.69,"v":20},{"d":29.75,"v":0},
      {"d":30.25,"v":0},{"d":30.31,"v":60},{"d":30.37,"v":300},{"d":30.4,"v":460},{"d":30.44,"v":130},{"d":30.5,"v":400},{"d":30.57,"v":540},{"d":30.63,"v":300},{"d":30.69,"v":60},{"d":30.75,"v":0},
      {"d":31.25,"v":0},{"d":31.31,"v":40},{"d":31.37,"v":200},{"d":31.43,"v":420},{"d":31.5,"v":390},{"d":31.57,"v":380},{"d":31.63,"v":220},{"d":31.69,"v":40},{"d":31.75,"v":0},
      {"d":32.16,"v":0}
    ]
  },
  "spacing": 0,
  "bounds": "flush",
  "vconcat": [
    {
      "width": 1754, "height": 208,
      "data": {"name": "temp"},
      "layer": [
        {"mark": {"type": "line", "color": "#0000ff", "strokeWidth": 2.8},
         "encoding": {
           "x": {"field": "d", "type": "quantitative", "scale": {"domain": [-0.24, 33.19], "nice": false, "zero": false},
                 "axis": {"orient": "bottom", "values": [0,1,2,3,4,5,6,7,8,9,10,11,12,13,14,15,16,17,18,19,20,21,22,23,24,25,26,27,28,29,30,31,32], "title": null}},
           "y": {"field": "b", "type": "quantitative", "scale": {"domain": [-1.8, 46.8], "nice": false, "zero": false},
                 "axis": {"orient": "left", "values": [0,10,20,30,40], "title": "Temperatura (C)"}}}},
        {"mark": {"type": "line", "color": "#00cd00", "strokeWidth": 2.8},
         "encoding": {
           "x": {"field": "d", "type": "quantitative", "scale": {"domain": [-0.24, 33.19], "nice": false, "zero": false}, "axis": null},
           "y": {"field": "g", "type": "quantitative", "scale": {"domain": [-1.8, 46.8], "nice": false, "zero": false}, "axis": null}}},
        {"mark": {"type": "line", "color": "#ff0000", "strokeWidth": 2.8},
         "encoding": {
           "x": {"field": "d", "type": "quantitative", "scale": {"domain": [-0.24, 33.19], "nice": false, "zero": false},
                 "axis": {"orient": "top", "values": [0,1,2,3,4,5,6,7,8,9,10,11,12,13,14,15,16,17,18,19,20,21,22,23,24,25,26,27,28,29,30,31,32], "labels": false, "title": null}},
           "y": {"field": "r", "type": "quantitative", "scale": {"domain": [-1.8, 46.8], "nice": false, "zero": false},
                 "axis": {"orient": "right", "values": [0,10,20,30,40], "title": null}}}}
      ],
      "resolve": {"axis": {"x": "independent", "y": "independent"}}
    },
    {
      "width": 1754, "height": 208,
      "data": {"name": "hum"},
      "layer": [
        {"mark": {"type": "line", "color": "#0000ff", "strokeWidth": 2.8},
         "encoding": {
           "x": {"field": "d", "type": "quantitative", "scale": {"domain": [-0.24, 33.19], "nice": false, "zero": false},
                 "axis": {"orient": "bottom", "values": [0,1,2,3,4,5,6,7,8,9,10,11,12,13,14,15,16,17,18,19,20,21,22,23,24,25,26,27,28,29,30,31,32], "title": null}},
           "y": {"field": "b", "type": "quantitative", "scale": {"domain": [-4, 104], "nice": false, "zero": false},
                 "axis": {"orient": "left", "values": [0,20,40,60,80,100], "labelExpr": "datum.value == 40 || datum.value == 80 ? '' : datum.label", "title": "Umidita' (%)"}}}},
        {"mark": {"type": "line", "color": "#00cd00", "strokeWidth": 2.8},
         "encoding": {
           "x": {"field": "d", "type": "quantitative", "scale": {"domain": [-0.24, 33.19], "nice": false, "zero": false}, "axis": null},
           "y": {"field": "g", "type": "quantitative", "scale": {"domain": [-4, 104], "nice": false, "zero": false}, "axis": null}}},
        {"mark": {"type": "line", "color": "#ff0000", "strokeWidth": 2.8},
         "encoding": {
           "x": {"field": "d", "type": "quantitative", "scale": {"domain": [-0.24, 33.19], "nice": false, "zero": false},
                 "axis": {"orient": "top", "values": [0,1,2,3,4,5,6,7,8,9,10,11,12,13,14,15,16,17,18,19,20,21,22,23,24,25,26,27,28,29,30,31,32],
                          "labelExpr": "datum.value == 0 ? '30' : datum.value == 32 ? '1' : '' + datum.value", "title": null}},
           "y": {"field": "r", "type": "quantitative", "scale": {"domain": [-4, 104], "nice": false, "zero": false},
                 "axis": {"orient": "right", "values": [0,20,40,60,80,100], "title": null}}}}
      ],
      "resolve": {"axis": {"x": "independent", "y": "independent"}}
    },
    {
      "width": 1754, "height": 208,
      "data": {"name": "pres"},
      "layer": [
        {"mark": {"type": "line", "color": "#0000ff", "strokeWidth": 2.8},
         "encoding": {
           "x": {"field": "d", "type": "quantitative", "scale": {"domain": [-0.24, 33.19], "nice": false, "zero": false},
                 "axis": {"orient": "bottom", "values": [0,1,2,3,4,5,6,7,8,9,10,11,12,13,14,15,16,17,18,19,20,21,22,23,24,25,26,27,28,29,30,31,32], "title": null}},
           "y": {"field": "b", "type": "quantitative", "scale": {"domain": [978.4, 1021.6], "nice": false, "zero": false},
                 "axis": {"orient": "left", "values": [980,990,1000,1010,1020], "format": "d", "labelExpr": "datum.value % 20 == 0 ? datum.label : ''", "title": "Pressione (hPa)"}}}},
        {"mark": {"type": "line", "color": "#00cd00", "strokeWidth": 2.8},
         "encoding": {
           "x": {"field": "d", "type": "quantitative", "scale": {"domain": [-0.24, 33.19], "nice": false, "zero": false}, "axis": null},
           "y": {"field": "g", "type": "quantitative", "scale": {"domain": [978.4, 1021.6], "nice": false, "zero": false}, "axis": null}}},
        {"mark": {"type": "line", "color": "#ff0000", "strokeWidth": 2.8},
         "encoding": {
           "x": {"field": "d", "type": "quantitative", "scale": {"domain": [-0.24, 33.19], "nice": false, "zero": false},
                 "axis": {"orient": "top", "values": [0,1,2,3,4,5,6,7,8,9,10,11,12,13,14,15,16,17,18,19,20,21,22,23,24,25,26,27,28,29,30,31,32],
                          "labelExpr": "datum.value == 0 ? '30' : datum.value == 32 ? '1' : '' + datum.value", "title": null}},
           "y": {"field": "r", "type": "quantitative", "scale": {"domain": [978.4, 1021.6], "nice": false, "zero": false},
                 "axis": {"orient": "right", "values": [980,990,1000,1010,1020], "title": null}}}}
      ],
      "resolve": {"axis": {"x": "independent", "y": "independent"}}
    },
    {
      "width": 1754, "height": 208,
      "data": {"name": "wind"},
      "layer": [
        {"mark": {"type": "line", "color": "#00cd00", "strokeWidth": 2.8},
         "encoding": {
           "x": {"field": "d", "type": "quantitative", "scale": {"domain": [-0.24, 33.19], "nice": false, "zero": false},
                 "axis": {"orient": "bottom", "values": [0,1,2,3,4,5,6,7,8,9,10,11,12,13,14,15,16,17,18,19,20,21,22,23,24,25,26,27,28,29,30,31,32], "title": null}},
           "y": {"field": "g", "type": "quantitative", "scale": {"domain": [-1.2, 31.2], "nice": false, "zero": false},
                 "axis": {"orient": "left", "values": [0,5,10,15,20,25,30], "labelExpr": "datum.value == 10 || datum.value == 20 || datum.value == 30 ? '' : datum.label", "title": "Vento (m/s)"}}}},
        {"mark": {"type": "line", "color": "#ff0000", "strokeWidth": 2.8},
         "encoding": {
           "x": {"field": "d", "type": "quantitative", "scale": {"domain": [-0.24, 33.19], "nice": false, "zero": false},
                 "axis": {"orient": "top", "values": [0,1,2,3,4,5,6,7,8,9,10,11,12,13,14,15,16,17,18,19,20,21,22,23,24,25,26,27,28,29,30,31,32],
                          "labelExpr": "datum.value == 0 ? '30' : datum.value == 32 ? '1' : '' + datum.value", "title": null}},
           "y": {"field": "r", "type": "quantitative", "scale": {"domain": [-1.2, 31.2], "nice": false, "zero": false},
                 "axis": {"orient": "right", "values": [0,5,10,15,20,25,30], "title": null}}}}
      ],
      "resolve": {"axis": {"x": "independent", "y": "independent"}}
    },
    {
      "width": 1754, "height": 208,
      "data": {"name": "dir"},
      "layer": [
        {"mark": {"type": "line", "color": "#00cd00", "strokeWidth": 2.8},
         "encoding": {
           "x": {"field": "d", "type": "quantitative", "scale": {"domain": [-0.24, 33.19], "nice": false, "zero": false},
                 "axis": {"orient": "bottom", "values": [0,1,2,3,4,5,6,7,8,9,10,11,12,13,14,15,16,17,18,19,20,21,22,23,24,25,26,27,28,29,30,31,32], "title": null}},
           "y": {"field": "v", "type": "quantitative", "scale": {"domain": [-0.5, 372], "nice": false, "zero": false},
                 "axis": {"orient": "left", "values": [50,100,150,200,250,300,350], "labelExpr": "datum.value % 100 == 50 ? datum.label : ''", "title": ["Direzione Vento", "(gradi)"]}},
           "detail": {"field": "s", "type": "nominal"}}},
        {"mark": {"type": "line", "color": "#00cd00", "strokeWidth": 2.8, "strokeOpacity": 0},
         "encoding": {
           "x": {"field": "d", "type": "quantitative", "scale": {"domain": [-0.24, 33.19], "nice": false, "zero": false},
                 "axis": {"orient": "top", "values": [0,1,2,3,4,5,6,7,8,9,10,11,12,13,14,15,16,17,18,19,20,21,22,23,24,25,26,27,28,29,30,31,32],
                          "labelExpr": "datum.value == 0 ? '30' : datum.value == 32 ? '1' : '' + datum.value", "title": null}},
           "y": {"field": "v", "type": "quantitative", "scale": {"domain": [-0.5, 372], "nice": false, "zero": false},
                 "axis": {"orient": "right", "values": [50,100,150,200,250,300,350], "title": null}},
           "detail": {"field": "s", "type": "nominal"}}}
      ],
      "resolve": {"axis": {"x": "independent", "y": "independent"}}
    },
    {
      "width": 1754, "height": 208,
      "data": {"name": "rain"},
      "layer": [
        {"mark": {"type": "line", "color": "#00cd00", "strokeWidth": 2.8},
         "encoding": {
           "x": {"field": "d", "type": "quantitative", "scale": {"domain": [-0.24, 33.19], "nice": false, "zero": false},
                 "axis": {"orient": "bottom", "values": [0,1,2,3,4,5,6,7,8,9,10,11,12,13,14,15,16,17,18,19,20,21,22,23,24,25,26,27,28,29,30,31,32], "title": null}},
           "y": {"field": "v", "type": "quantitative", "scale": {"domain": [-0.9, 21.6], "nice": false, "zero": false},
                 "axis": {"orient": "left", "values": [0,5,10,15,20], "title": "Precipitazioni (mm)"}}}},
        {"mark": {"type": "line", "color": "#00cd00", "strokeWidth": 2.8, "strokeOpacity": 0},
         "encoding": {
           "x": {"field": "d", "type": "quantitative", "scale": {"domain": [-0.24, 33.19], "nice": false, "zero": false},
                 "axis": {"orient": "top", "values": [0,1,2,3,4,5,6,7,8,9,10,11,12,13,14,15,16,17,18,19,20,21,22,23,24,25,26,27,28,29,30,31,32],
                          "labelExpr": "datum.value == 0 ? '30' : datum.value == 32 ? '1' : '' + datum.value", "title": null}},
           "y": {"field": "v", "type": "quantitative", "scale": {"domain": [-0.9, 21.6], "nice": false, "zero": false},
                 "axis": {"orient": "right", "values": [0,5,10,15,20], "title": null}}}}
      ],
      "resolve": {"axis": {"x": "independent", "y": "independent"}}
    },
    {
      "width": 1754, "height": 208,
      "data": {"name": "rad"},
      "layer": [
        {"mark": {"type": "line", "color": "#00cd00", "strokeWidth": 2.8},
         "encoding": {
           "x": {"field": "d", "type": "quantitative", "scale": {"domain": [-0.24, 33.19], "nice": false, "zero": false},
                 "axis": {"orient": "bottom", "values": [0,1,2,3,4,5,6,7,8,9,10,11,12,13,14,15,16,17,18,19,20,21,22,23,24,25,26,27,28,29,30,31,32],
                          "tickSize": 12, "labels": true, "labelPadding": 10, "labelBaseline": "middle", "labelFontSize": 18,
                          "labelExpr": "datum.value == 0 ? '30' : datum.value == 32 ? '1' : '' + datum.value",
                          "title": "Data", "titleFontSize": 29, "titleFontWeight": "normal", "titlePadding": 43, "titleX": 839}},
           "y": {"field": "v", "type": "quantitative", "scale": {"domain": [-45, 1006], "nice": false, "zero": false},
                 "axis": {"orient": "left", "values": [0,200,400,600,800], "labelExpr": "datum.value % 400 == 0 ? datum.label : ''", "title": ["Irraggiamento", "medio (W/m^2)"]}}}},
        {"mark": {"type": "line", "color": "#00cd00", "strokeWidth": 2.8, "strokeOpacity": 0},
         "encoding": {
           "x": {"field": "d", "type": "quantitative", "scale": {"domain": [-0.24, 33.19], "nice": false, "zero": false},
                 "axis": {"orient": "top", "values": [0,1,2,3,4,5,6,7,8,9,10,11,12,13,14,15,16,17,18,19,20,21,22,23,24,25,26,27,28,29,30,31,32],
                          "labelExpr": "datum.value == 0 ? '30' : datum.value == 32 ? '1' : '' + datum.value", "title": null}},
           "y": {"field": "v", "type": "quantitative", "scale": {"domain": [-45, 1006], "nice": false, "zero": false},
                 "axis": {"orient": "right", "values": [0,200,400,600,800], "title": null}}}}
      ],
      "resolve": {"axis": {"x": "independent", "y": "independent"}}
    }
  ],
  "config": {
    "font": "Liberation Sans",
    "view": {"stroke": "black", "strokeWidth": 2.5},
    "axis": {
      "grid": false, "domain": false,
      "tickColor": "#333333", "tickWidth": 1.5,
      "labelFont": "Liberation Sans", "labelFontWeight": "bold", "labelColor": "black",
      "labelOverlap": false, "labelFlush": false,
      "titleFont": "Liberation Sans", "titleFontWeight": "bold", "titleColor": "black", "titleFontSize": 19
    },
    "axisLeft": {"tickSize": 12, "labelAngle": 270, "labelAlign": "center", "labelBaseline": "bottom", "labelPadding": 18, "labelFontSize": 16, "titlePadding": 6, "titleLineHeight": 26},
    "axisRight": {"tickSize": 12, "labels": false},
    "axisTop": {"tickSize": -12, "labelPadding": -26, "labelBaseline": "middle", "labelFontSize": 18},
    "axisBottom": {"tickSize": -12, "labels": false}
  }
}
